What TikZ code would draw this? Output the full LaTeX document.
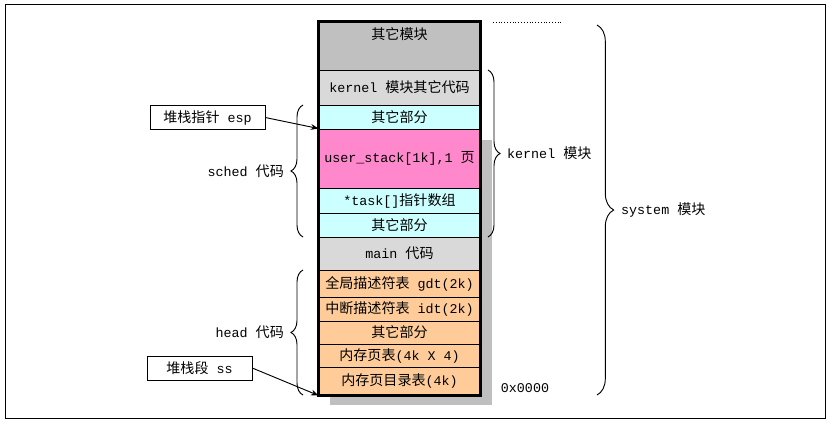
\documentclass[tikz,border=0pt]{standalone}
\usepackage{fontspec}
\setmainfont{Liberation Mono}[Scale=0.95]
\newfontfamily\cjkf{Noto Sans CJK SC}
\newcommand{\zh}[1]{{\cjkf #1}}
\usetikzlibrary{decorations.pathreplacing,arrows.meta}
\definecolor{mgray}{HTML}{C0C0C0}
\definecolor{lgray}{HTML}{D9D9D9}
\definecolor{mcyan}{HTML}{CCFFFF}
\definecolor{mpink}{HTML}{FF88CC}
\definecolor{morange}{HTML}{FFCC99}
\tikzset{
  row/.style={draw, line width=0.8pt, minimum width=4.83cm, inner sep=0pt, font=\fontsize{12}{14}\selectfont},
  tag/.style={draw, inner sep=3pt, font=\fontsize{12}{14}\selectfont, minimum height=0.72cm},
  note/.style={font=\fontsize{12}{14}\selectfont},
  brc/.style={decorate, decoration={brace, amplitude=#1}, thick}
}
\begin{document}
\begin{tikzpicture}[x=0.03cm, y=-0.03cm]
\useasboundingbox (0,0) rectangle (830,426);
\draw[line width=0.8pt] (5,4) rectangle (825,418);
%%% shadow of the memory map %%%
\fill[gray!50] (480,140) rectangle (492,405);
\fill[gray!50] (330,395) rectangle (492,405);
%%% memory map %%%
\node[row, fill=mgray, minimum height=1.44cm] (rOther) at (399.5,46) {};
\node[note, below=2pt] at (rOther.north) {\zh{其它模块}};
\node[row, fill=lgray, minimum height=1.05cm] (rKern) at (399.5,87.5) {kernel \zh{模块其它代码}};
\node[row, fill=mcyan, minimum height=0.72cm] (rSchedA) at (399.5,117) {\zh{其它部分}};
\node[row, fill=mpink, minimum height=1.77cm] (rUstack) at (399.5,158.5) {user\_stack[1k],1 \zh{页}};
\node[row, fill=mcyan, minimum height=0.75cm] (rTask) at (399.5,200.5) {*task[]\zh{指针数组}};
\node[row, fill=mcyan, minimum height=0.72cm] (rSchedB) at (399.5,225) {\zh{其它部分}};
\node[row, fill=lgray, minimum height=0.99cm] (rMain) at (399.5,253.5) {main \zh{代码}};
\node[row, fill=morange, minimum height=0.81cm] (rGdt) at (399.5,283.5) {\zh{全局描述符表} gdt(2k)};
\node[row, fill=morange, minimum height=0.72cm] (rIdt) at (399.5,309) {\zh{中断描述符表} idt(2k)};
\node[row, fill=morange, minimum height=0.69cm] (rHeadA) at (399.5,332.5) {\zh{其它部分}};
\node[row, fill=morange, minimum height=0.69cm] (rPgt) at (399.5,355.5) {\zh{内存页表}(4k X 4)};
\node[row, fill=morange, minimum height=0.84cm] (rPgd) at (399.5,381) {\zh{内存页目录表}(4k)};
\draw[line width=2pt] (rOther.north west) rectangle (rPgd.south east);
\node[note, anchor=west] (addr) at (497,388) {0x0000};
\draw[dotted] (493,22) -- (562,22);
%%% braces %%%
\draw[brc=0.36cm] (303,237) -- (303,105) node[midway, left=0.45cm, note] (lSched) {sched \zh{代码}};
\draw[brc=0.36cm] (303,395) -- (303,270) node[midway, left=0.45cm, note] (lHead) {head \zh{代码}};
\draw[brc=0.36cm] (488,70) -- (488,237) node[midway, right=0.45cm, note] (lKern) {kernel \zh{模块}};
\draw[brc=0.5cm] (597,25) -- (597,395) node[midway, right=0.6cm, note] (lSys) {system \zh{模块}};
%%% pointers %%%
\node[tag, minimum width=3.45cm] (esp) at (207.5,117.5) {\zh{堆栈指针} esp};
\node[tag, minimum width=3.15cm] (ss) at (199.5,368) {\zh{堆栈段} ss};
\draw[-{Stealth}, thick] (esp.east) -- (rUstack.north west);
\draw[-{Stealth}, thick] (ss.east) -- (rPgd.south west);
\end{tikzpicture}
\end{document}
